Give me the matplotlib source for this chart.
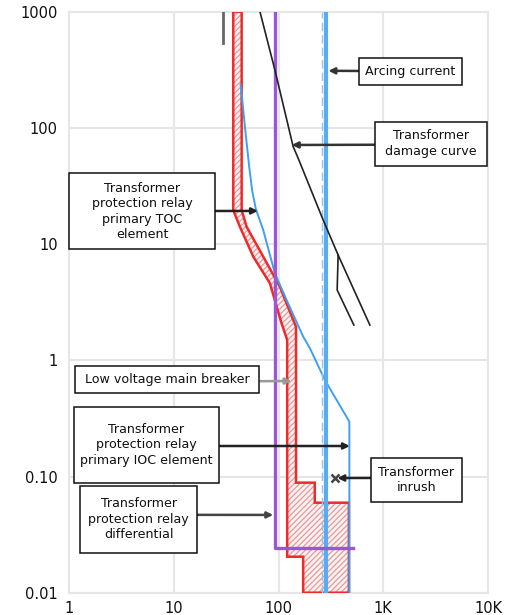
import numpy as np
import matplotlib.pyplot as plt
from matplotlib.patches import Polygon, Rectangle

# time-current coordination curves (current in A, time in s)
x_ticks = [1, 10, 100, 1000, 10000]
x_labels = ["1", "10", "100", "1K", "10K"]
y_ticks = [0.01, 0.1, 1, 10, 100, 1000]
y_labels = ["0.01", "0.10", "1", "10", "100", "1000"]

# primary TOC + IOC band (outline of hatched area)
relay_band_x = [37, 37, 42.8, 57.4, 82.8, 107, 121, 121, 172, 172, 470, 470,
                222, 222, 147, 147, 103, 71.5, 49.6, 44.5, 44.5]
relay_band_y = [1000, 19.6, 14.1, 7.8, 4.6, 2.08, 1.5, 0.0204, 0.0204, 0.01, 0.01, 0.0595,
                0.0595, 0.0885, 0.0885, 1.94, 4.3, 7.8, 14.1, 19.6, 1000]

# low voltage main breaker
lv_breaker_x = [43.5, 45.1, 47.8, 52.5, 56, 60.8, 71.5, 92.4, 119.5, 172, 199.5, 277, 475, 475]
lv_breaker_y = [234, 174, 102, 46.4, 29, 20, 13.2, 5.6, 3.3, 1.6, 1.27, 0.677, 0.296, 0.01]

# transformer damage curve and its two tails
damage_x = [66.5, 92.4, 138, 152, 267, 371]
damage_y = [1000, 315, 69, 56.5, 16.1, 8.05]
damage_tail_a_x = [371, 363, 524]
damage_tail_a_y = [8.05, 4.03, 2.01]
damage_tail_b_x = [371, 745]
damage_tail_b_y = [8.05, 2.01]

# differential element
diff_x = [92.4, 92.4, 509]
diff_y = [1000, 0.0244, 0.0244]

arcing_current = 285
arcing_dashed = 259
grey_mark_x = [29.7, 29.7]
grey_mark_y = [1000, 535]
inrush_x = [345]
inrush_y = [0.097]

RED = "#ee2a2a"
BLUE = "#3f9ff0"
PURPLE = "#9b57d3"

fig = plt.figure(figsize=(5.11, 6.15), dpi=100)
ax = fig.add_axes([69 / 511, 1 - 592.7 / 615, 419 / 511, 581 / 615])
ax.set_xscale("log")
ax.set_yscale("log")
ax.set_xlim(1, 10000)
ax.set_ylim(0.01, 1000)

ax.set_xticks(x_ticks, x_labels)
ax.set_yticks(y_ticks, y_labels)
ax.minorticks_off()
ax.tick_params(length=0, labelsize=10.5, colors="#111111")
ax.tick_params(axis="x", pad=6)
ax.tick_params(axis="y", pad=8)
for lbl in ax.get_yticklabels():
    lbl.set_verticalalignment("center_baseline")
ax.grid(True, color="#e6e6e6", linewidth=1.5)
for sp in ax.spines.values():
    sp.set_color("#e6e6e6")
    sp.set_linewidth(1.5)

plt.rcParams["hatch.linewidth"] = 0.9

# hatched relay band
band_pts = np.column_stack([relay_band_x, relay_band_y])
ax.add_patch(Polygon(band_pts, closed=True, facecolor="#fbf1f1", edgecolor="#e39a9a",
                     hatch="//////", linewidth=0, zorder=2))
ax.add_patch(Polygon(band_pts, closed=True, fill=False, edgecolor=RED,
                     linewidth=1.8, zorder=3))

ax.plot(lv_breaker_x, lv_breaker_y, color=BLUE, linewidth=1.4, zorder=4)
ax.axvline(arcing_current, color="#5aabf2", linewidth=3, zorder=4)
ax.axvline(arcing_dashed, color="#8ec6f2", linewidth=1, linestyle=(0, (6, 3)), zorder=4)
ax.plot(diff_x, diff_y, color=PURPLE, linewidth=2.4, zorder=4)

ax.plot(damage_x, damage_y, color="#222222", linewidth=1.2, zorder=5)
ax.plot(damage_tail_a_x, damage_tail_a_y, color="#222222", linewidth=1.2, zorder=5)
ax.plot(damage_tail_b_x, damage_tail_b_y, color="#222222", linewidth=1.2, zorder=5)
ax.plot(grey_mark_x, grey_mark_y, color="#666666", linewidth=2, zorder=5)
ax.plot(inrush_x, inrush_y, marker="x", color="#444444", markersize=6, mew=1.8,
        linestyle="none", zorder=6)

# labelled boxes: (text, box in axes fraction, arrow start, arrow tip, arrow colour)
notes = [
    ("Arcing current", (0.692, 0.873, 0.937, 0.921), (0.692, 0.898), (300, 310), "#333333"),
    ("Transformer\ndamage curve", (0.730, 0.735, 0.998, 0.811), (0.730, 0.771), (134, 71.3), "#333333"),
    ("Transformer\nprotection relay\nprimary TOC\nelement", (0.001, 0.591, 0.348, 0.722),
     (0.348, 0.657), (63.6, 19.3), "#222222"),
    ("Low voltage main breaker", (0.015, 0.343, 0.453, 0.391), (0.453, 0.364), (133, 0.664), "#999999"),
    ("Transformer\nprotection relay\nprimary IOC element", (0.011, 0.189, 0.359, 0.320),
     (0.359, 0.2525), (480, 0.183), "#222222"),
    ("Transformer\nprotection relay\ndifferential", (0.027, 0.068, 0.306, 0.184),
     (0.306, 0.134), (89, 0.0467), "#444444"),
    ("Transformer\ninrush", (0.721, 0.156, 0.937, 0.232), (0.721, 0.1975), (365, 0.097), "#222222"),
]

for text, (x0, y0, x1, y1), start, tip, col in notes:
    ax.add_patch(Rectangle((x0, y0), x1 - x0, y1 - y0, transform=ax.transAxes,
                           facecolor="white", edgecolor="#111111", linewidth=1.1,
                           zorder=8, clip_on=False))
    ax.text((x0 + x1) / 2, (y0 + y1) / 2, text, transform=ax.transAxes, ha="center",
            va="center", fontsize=9.1, color="#111111", linespacing=1.25, zorder=9)
    ax.annotate("", xy=tip, xycoords="data", xytext=start, textcoords="axes fraction",
                arrowprops=dict(arrowstyle="-|>", color=col, lw=1.8, mutation_scale=9,
                                shrinkA=0, shrinkB=0), zorder=7)

fig.savefig("out.png", dpi=100)
